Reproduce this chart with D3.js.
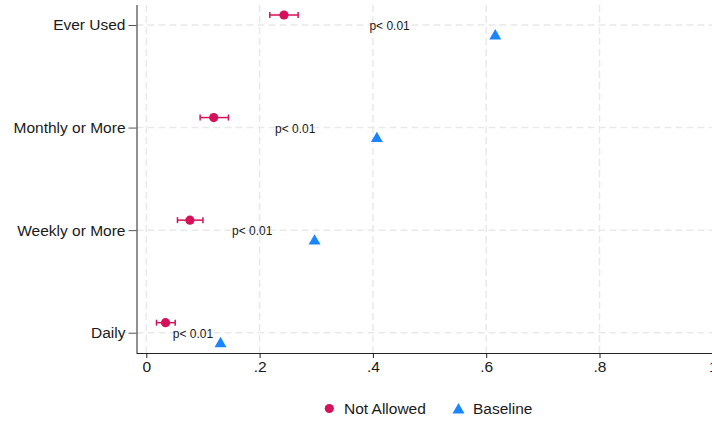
<!DOCTYPE html>
<html>
<head>
<meta charset="utf-8">
<script src="https://cdn.jsdelivr.net/npm/d3@7"></script>
<style>
  body { margin: 0; background: #fff; }
  svg text { font-family: Arial, "Liberation Sans", sans-serif; fill: #1a1a1a; }
</style>
</head>
<body>
<div id="chart"></div>
<script>
// categories (top to bottom)
let categories = ["Ever Used", "Monthly or More", "Weekly or More", "Daily"];
// Not Allowed estimate with 95% CI
let notAllowed = [0.243, 0.119, 0.077, 0.034];
let notAllowedLo = [0.218, 0.095, 0.055, 0.018];
let notAllowedHi = [0.268, 0.145, 0.100, 0.051];
// Baseline
let baseline = [0.616, 0.407, 0.297, 0.131];
let pLabels = ["p< 0.01", "p< 0.01", "p< 0.01", "p< 0.01"];
let xTicks = [0, 0.2, 0.4, 0.6, 0.8, 1];

let W = 712, H = 423;
let red = "#d41159", blue = "#1a85ff";

let svg = d3.select("#chart").append("svg")
    .attr("width", W).attr("height", H);

let x = d3.scaleLinear().domain([0, 1]).range([146.3, 712.8]);
let y = d3.scalePoint().domain(categories).range([25, 332.7]);
let plotLeft = 136.5, plotTop = 5, plotBottom = 353;

// grid
let grid = svg.append("g");
grid.selectAll(".gx").data(xTicks).enter().append("line")
    .attr("x1", d => x(d)).attr("x2", d => x(d))
    .attr("y1", plotTop).attr("y2", plotBottom)
    .attr("stroke", "#e9e9e9").attr("stroke-width", 1.5)
    .attr("stroke-dasharray", "7,4");
grid.selectAll(".gy").data(categories).enter().append("line")
    .attr("x1", plotLeft).attr("x2", W)
    .attr("y1", d => y(d)).attr("y2", d => y(d))
    .attr("stroke", "#e9e9e9").attr("stroke-width", 1.5)
    .attr("stroke-dasharray", "7,4");

// axes
let xAxis = svg.append("g")
    .attr("transform", "translate(0," + plotBottom + ")")
    .call(d3.axisBottom(x).tickValues(xTicks).tickSize(5).tickPadding(3)
        .tickFormat(d => d === 0 ? "0" : d === 1 ? "1" : d3.format(".1f")(d).replace(/^0/, "")));
xAxis.select(".domain").attr("d", "M" + plotLeft + ",0.5H" + W).attr("stroke", "#222");
xAxis.selectAll(".tick line").attr("stroke", "#222");
xAxis.selectAll("text").attr("font-size", "15.5px");

let yAxis = svg.append("g")
    .attr("transform", "translate(" + plotLeft + ",0)")
    .call(d3.axisLeft(y).tickSize(8).tickPadding(3));
yAxis.select(".domain").attr("d", "M0.5," + plotTop + "V" + plotBottom).attr("stroke", "#222");
yAxis.selectAll(".tick line").attr("stroke", "#555");
yAxis.selectAll("text").attr("font-size", "15.5px");

let rows = categories.map((c, i) => ({
    cat: c, na: notAllowed[i], lo: notAllowedLo[i], hi: notAllowedHi[i],
    base: baseline[i], p: pLabels[i]
}));

// error bars
let eb = svg.append("g").attr("stroke", red).attr("stroke-width", 1.5);
rows.forEach(d => {
    let yy = y(d.cat) - 10;
    eb.append("line").attr("x1", x(d.lo)).attr("x2", x(d.hi)).attr("y1", yy).attr("y2", yy);
    eb.append("line").attr("x1", x(d.lo)).attr("x2", x(d.lo)).attr("y1", yy - 3).attr("y2", yy + 3);
    eb.append("line").attr("x1", x(d.hi)).attr("x2", x(d.hi)).attr("y1", yy - 3).attr("y2", yy + 3);
});

svg.selectAll(".na").data(rows).enter().append("circle")
    .attr("cx", d => x(d.na)).attr("cy", d => y(d.cat) - 10)
    .attr("r", 4.6).attr("fill", red);

let tri = d3.symbol().type(d3.symbolTriangle).size(62);
svg.selectAll(".bl").data(rows).enter().append("path")
    .attr("d", tri)
    .attr("transform", d => "translate(" + x(d.base) + "," + (y(d.cat) + 11) + ")")
    .attr("fill", blue);

svg.selectAll(".pl").data(rows).enter().append("text")
    .attr("x", d => x((d.na + d.base) / 2)).attr("y", d => y(d.cat) + 5)
    .attr("text-anchor", "middle").attr("font-size", "12px")
    .text(d => d.p);

// legend
let lg = svg.append("g");
lg.append("circle").attr("cx", 329.3).attr("cy", 408.5).attr("r", 4.6).attr("fill", red);
lg.append("text").attr("x", 344).attr("y", 414).attr("font-size", "15.5px").text("Not Allowed");
lg.append("path").attr("d", tri).attr("transform", "translate(458.5,410)").attr("fill", blue);
lg.append("text").attr("x", 473).attr("y", 414).attr("font-size", "15.5px").text("Baseline");
</script>
</body>
</html>
